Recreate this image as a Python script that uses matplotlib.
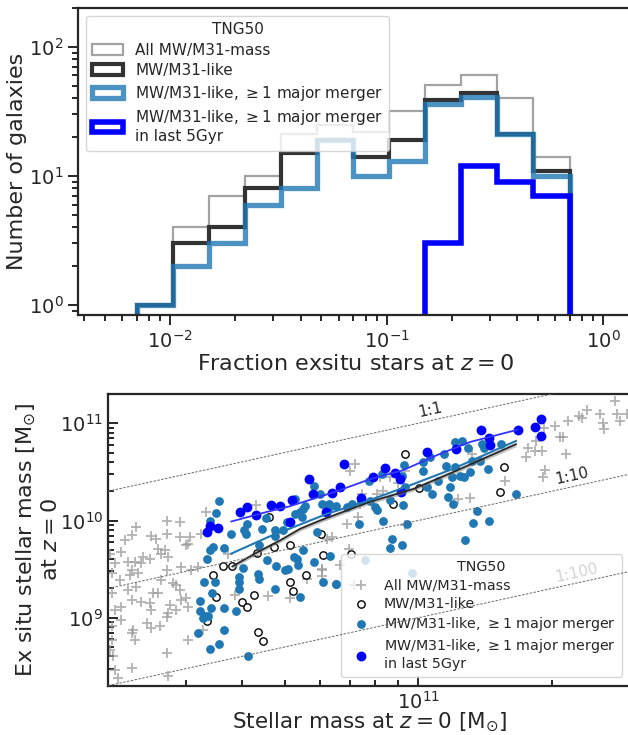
import numpy as np
import matplotlib
matplotlib.use('Agg')
import matplotlib.pyplot as plt
from matplotlib.ticker import NullFormatter

# ---- top panel: fraction of ex-situ stars (12 log bins from 0.007 to 0.7)
bin_lo, bin_hi, n_bins = 0.007, 0.7, 12
count_all = [1, 4, 7, 10, 21, 25, 22, 32, 51, 60, 40, 14]
count_like = [1, 3, 4, 8, 15, 19, 14, 19, 39, 44, 21, 11]
count_major = [1, 2, 3, 6, 8, 19, 10, 13, 36, 41, 21, 10]
count_recent = [0, 0, 0, 0, 0, 0, 0, 0, 3, 12, 9, 7]

# ---- bottom panel: log10 stellar mass vs log10 ex situ mass
cross_logm = [10.365, 10.354, 10.339, 10.399, 10.410, 10.433, 10.463, 10.433, 10.429, 10.414,
              10.421, 10.395, 10.380, 10.376, 10.361, 10.346, 10.331, 10.316, 10.305, 10.309,
              10.327, 10.350, 10.354, 10.369, 10.365, 10.346, 10.354, 10.331, 10.316, 10.309,
              10.376, 10.395, 10.399, 10.402, 10.414, 10.421, 10.433, 10.436, 10.466, 10.481,
              10.463, 10.485, 10.477, 10.504, 10.489, 10.448, 10.455, 10.463, 10.466, 10.440,
              10.455, 10.477, 10.481, 10.436, 10.433, 10.418, 10.399, 10.388, 10.358, 10.354,
              10.361, 10.309, 10.309, 10.331, 10.305, 10.312, 10.316, 10.354, 10.324, 10.433,
              10.436, 10.481, 10.515, 10.522, 10.511, 10.572, 10.587, 10.662, 10.635,
              10.858, 10.846, 10.873, 10.869, 10.906, 10.914, 10.936, 10.970, 10.970, 10.865,
              10.839, 10.805, 10.794, 10.843, 10.783, 10.824, 10.783, 10.749, 10.711, 10.855,
              10.921, 10.955, 10.784, 10.856,
              11.120, 11.248, 11.263, 11.278, 11.243, 11.265, 11.283, 11.308, 11.319, 11.327,
              11.333, 11.338, 11.361, 11.368, 11.379, 11.409, 11.417, 11.418, 11.443, 11.447,
              11.455, 11.470, 11.286, 11.280, 11.196, 11.117, 11.090]
cross_logex = [9.932, 9.847, 9.796, 9.837, 9.807, 9.994, 9.984, 9.865, 9.694, 9.711,
               9.660, 9.609, 9.626, 9.558, 9.575, 9.575, 9.677, 9.558, 9.660, 9.456,
               9.387, 9.438, 9.490, 9.456, 9.319, 9.285, 9.183, 9.115, 9.081, 9.251,
               9.166, 9.149, 9.081, 9.251, 9.251, 9.387, 9.490, 9.626, 9.524, 9.762,
               9.830, 9.830, 9.745, 9.524, 9.490, 9.353, 9.336, 9.285, 9.183, 9.132,
               9.081, 9.200, 9.115, 9.047, 9.012, 8.910, 8.893, 8.944, 8.876, 8.842,
               8.774, 8.910, 8.774, 8.978, 8.672, 8.603, 8.467, 8.484, 8.382, 8.638,
               8.398, 8.774, 8.876, 10.086, 9.865, 9.660, 9.234, 9.224, 10.155,
               10.580, 10.512, 10.273, 10.171, 10.273, 10.443, 10.443, 10.512, 9.949, 10.034,
               9.966, 9.830, 9.813, 9.711, 9.506, 9.540, 9.428, 9.394, 9.199, 9.336,
               10.307, 10.382, 9.489, 9.336,
               10.682, 10.750, 10.716, 10.716, 10.648, 10.818, 10.955, 10.972, 10.859, 10.859,
               10.682, 11.023, 11.074, 11.050, 11.132, 11.091, 11.006, 10.938, 11.227, 11.091,
               11.023, 11.091, 10.518, 10.443, 10.402, 10.232, 10.222]

like_logm = [10.559, 10.581, 10.538, 10.545, 10.524, 10.629, 10.602, 10.614, 10.639, 10.651,
             10.637, 10.675, 10.664, 10.711, 10.710, 10.717, 10.747, 10.786, 10.780, 10.849,
             10.944, 11.002, 10.969, 11.193, 11.183]
like_logex = [9.533, 9.527, 9.435, 9.213, 8.968, 9.233, 9.158, 9.111, 8.855, 8.763,
              9.666, 9.731, 10.041, 9.745, 9.370, 9.274, 9.438, 9.649, 9.864, 9.660,
              10.171, 10.331, 10.682, 10.552, 10.297]

major_logm = [10.551, 10.544, 10.530, 10.579, 10.608, 10.611, 10.614, 10.647, 10.656, 10.677,
              10.677, 10.530, 10.538, 10.562, 10.524, 10.641, 10.659, 10.605, 10.596, 10.596,
              10.638, 10.641, 10.679, 10.597, 10.678, 10.518, 10.542, 10.536, 10.509, 10.533,
              10.563, 10.508, 10.519, 10.514, 10.527, 10.589, 10.504, 10.563, 10.530, 10.552,
              10.617,
              10.696, 10.704, 10.722, 10.722, 10.734, 10.737, 10.741, 10.745, 10.720, 10.726,
              10.728, 10.740, 10.764, 10.766, 10.771, 10.779, 10.783, 10.798, 10.800, 10.815,
              10.839, 10.801, 10.786, 10.734, 10.815, 10.850, 10.867, 10.870, 10.890, 10.891,
              10.903, 10.906, 10.899, 10.921, 10.936, 10.940, 10.936, 10.963, 10.965, 10.970,
              10.968, 10.974, 10.963, 10.918, 11.011, 11.011, 11.019, 11.026, 11.045, 11.030,
              11.057, 11.068, 11.062, 11.077, 10.699, 10.707,
              11.083, 11.099, 11.113, 11.143, 11.147, 11.186, 11.083, 11.094, 11.102, 11.117,
              11.120, 11.138, 11.158, 11.072, 11.079, 11.132, 11.124, 11.160, 11.105, 11.220,
              10.879, 10.986, 10.814]
major_logex = [10.201, 10.075, 9.993, 9.864, 9.905, 9.864, 9.959, 9.915, 10.024, 9.905,
               9.837, 9.694, 9.728, 9.721, 9.608, 9.745, 9.591, 9.510, 9.414, 9.370,
               9.445, 9.401, 9.533, 9.295, 9.295, 9.366, 9.366, 9.257, 9.175, 9.104,
               9.104, 9.073, 9.022, 8.998, 9.022, 9.073, 8.848, 8.869, 8.678, 8.732,
               8.603,
               9.905, 9.983, 10.222, 10.068, 10.085, 10.034, 10.120, 10.154, 9.625, 9.608,
               9.540, 9.700, 9.574, 10.358, 9.881, 10.273, 10.171, 10.171, 10.143, 10.154,
               10.137, 9.636, 9.370, 9.216, 9.346, 10.171, 9.966, 10.205, 10.402, 10.198,
               10.137, 10.103, 10.443, 10.000, 10.212, 9.813, 9.721, 9.745, 10.160, 10.348,
               10.573, 9.966, 10.460, 10.477, 10.597, 10.512, 10.348, 10.655, 10.402, 10.273,
               10.682, 10.239, 10.563, 10.443, 9.489, 9.506,
               10.812, 10.818, 10.750, 10.784, 10.750, 10.784, 10.546, 10.460, 10.443, 10.501,
               10.614, 10.614, 10.529, 10.341, 10.171, 10.096, 9.973, 10.000, 9.803, 10.273,
               9.591, 9.462, 9.342]

recent_logm = [10.524, 10.530, 10.549, 10.598, 10.615, 10.634, 10.669, 10.689, 10.710, 10.716,
               10.753, 10.763, 10.793, 10.805, 10.823, 10.833, 10.871, 10.899, 10.926, 10.947,
               10.958, 10.960, 11.019, 11.085, 11.142, 11.159, 11.161, 11.224, 11.264, 11.277,
               11.277]
recent_logex = [9.881, 9.946, 9.922, 10.086, 10.137, 10.055, 10.157, 10.154, 9.987, 10.212,
                10.423, 10.273, 10.086, 10.287, 10.345, 10.576, 10.236, 10.447, 10.535, 10.491,
                10.430, 10.297, 10.702, 10.736, 10.934, 10.849, 10.774, 10.934, 10.961, 11.047,
                10.869]

# running medians
med_like_logm = [10.581, 10.636, 10.689, 10.734, 10.779, 10.839, 10.888, 10.989, 11.077, 11.220]
med_like_logex = [9.527, 9.670, 9.796, 9.915, 10.000, 10.103, 10.188, 10.324, 10.495, 10.784]
band_like_lo = [9.505, 9.650, 9.775, 9.893, 9.978, 10.082, 10.166, 10.302, 10.472, 10.760]
band_like_hi = [9.550, 9.692, 9.818, 9.937, 10.022, 10.125, 10.210, 10.346, 10.518, 10.808]
med_major_logm = [10.579, 10.662, 10.719, 10.794, 10.888, 10.989, 11.077, 11.220]
med_major_logex = [9.660, 9.830, 9.932, 10.068, 10.205, 10.375, 10.529, 10.818]
med_recent_logm = [10.579, 10.662, 10.708, 10.814, 10.890, 10.966, 11.042, 11.117, 11.224]
med_recent_logex = [9.990, 10.092, 10.143, 10.297, 10.423, 10.518, 10.672, 10.808, 10.934]

ratios = [1, 10, 100]
ratio_names = ['1:1', '1:10', '1:100']
ratio_label_logm = [11.03, 11.35, 11.36]

txt = '0.15'
plt.rcParams.update({
    'font.family': 'DejaVu Sans',
    'text.color': txt, 'axes.labelcolor': txt,
    'xtick.color': txt, 'ytick.color': txt,
    'axes.edgecolor': txt, 'axes.linewidth': 1.6,
    'legend.edgecolor': '0.8',
})

W, H = 628, 735
fig = plt.figure(figsize=(W / 100, H / 100), dpi=100)

# ---------------- top panel
ax1 = fig.add_axes([78 / W, 1 - 315 / H, (632 - 78) / W, 307 / H])
edges = np.logspace(np.log10(bin_lo), np.log10(bin_hi), n_bins + 1)
centres = np.sqrt(edges[:-1] * edges[1:])

ax1.hist(centres, bins=edges, weights=count_all, histtype='step', color='0.55', alpha=0.8,
         lw=1.6, label='All MW/M31-mass')
ax1.hist(centres, bins=edges, weights=count_like, histtype='step', color='0.2', lw=3,
         label='MW/M31-like')
ax1.hist(centres, bins=edges, weights=count_major, histtype='step', color='C0', alpha=0.8,
         lw=3.8, label=r'MW/M31-like, $\geq 1$ major merger')
ax1.hist(centres, bins=edges, weights=count_recent, histtype='step', color='#0000ff', lw=4,
         label='MW/M31-like, $\\geq 1$ major merger\nin last 5Gyr')
ax1.set_xscale('log')
ax1.set_yscale('log')
ax1.set_xlim(0.00375, 1.36)
ax1.set_ylim(0.837, 200)
ax1.set_xlabel('Fraction exsitu stars at $z = 0$', fontsize=16, labelpad=2)
ax1.set_ylabel('Number of galaxies', fontsize=16, labelpad=1)
ax1.tick_params(which='both', direction='out', labelsize=14, width=1.4)
ax1.tick_params(which='major', length=7)
ax1.tick_params(which='minor', length=4)
ax1.legend(title='TNG50', loc='upper left', bbox_to_anchor=(0.015, 0.974), borderaxespad=0,
           fontsize=11, title_fontsize=11, framealpha=0.8, labelspacing=0.36)

# ---------------- bottom panel
ax2 = fig.add_axes([108 / W, 1 - 685.7 / H, (632 - 108) / W, 291.7 / H])
ax2.set_xscale('log')
ax2.set_yscale('log')
xlo, xhi = 2e10, 3.03e11
ax2.set_xlim(xlo, xhi)
ax2.set_ylim(2e8, 2e11)

xr = np.array([xlo, xhi])
for r in ratios:
    ax2.plot(xr, xr / r, ls=(0, (2.5, 1.5)), color='0.4', lw=0.7, zorder=10)

ax2.scatter(10 ** np.array(cross_logm), 10 ** np.array(cross_logex), marker='+', s=42,
            color='0.6', alpha=0.75, linewidths=1.3, label='All MW/M31-mass', zorder=2)
ax2.scatter(10 ** np.array(like_logm), 10 ** np.array(like_logex), marker='o', s=28,
            facecolors='white', edgecolors='black', linewidths=1, label='MW/M31-like', zorder=3)
ax2.scatter(10 ** np.array(major_logm), 10 ** np.array(major_logex), marker='o', s=40,
            color='C0', linewidths=0, label=r'MW/M31-like, $\geq 1$ major merger', zorder=4)
ax2.scatter(10 ** np.array(recent_logm), 10 ** np.array(recent_logex), marker='o', s=50,
            color='#0000ff', linewidths=0,
            label='MW/M31-like, $\\geq 1$ major merger\nin last 5Gyr', zorder=5)

ax2.fill_between(10 ** np.array(med_like_logm), 10 ** np.array(band_like_lo),
                 10 ** np.array(band_like_hi), color='0.5', alpha=0.5, lw=0, zorder=6)
ax2.plot(10 ** np.array(med_like_logm), 10 ** np.array(med_like_logex), color='0.15', lw=1.2, zorder=7)
ax2.plot(10 ** np.array(med_major_logm), 10 ** np.array(med_major_logex), color='C0', lw=1.5, zorder=7)
ax2.plot(10 ** np.array(med_recent_logm), 10 ** np.array(med_recent_logex), color='#3333ff', lw=1.3, zorder=7)

# labels of the ratio lines, rotated with the line on screen
fig.canvas.draw()
p0 = ax2.transData.transform((2e10, 2e10))
p1 = ax2.transData.transform((2e11, 2e11))
angle = np.degrees(np.arctan2(p1[1] - p0[1], p1[0] - p0[0]))
for r, name, lx in zip(ratios, ratio_names, ratio_label_logm):
    ax2.annotate(name, (10 ** lx, 10 ** lx / r), xytext=(0, 2), textcoords='offset points',
                 rotation=angle, rotation_mode='anchor', ha='center', va='bottom',
                 fontsize=11, zorder=1)

ax2.set_xlabel(r'Stellar mass at $z = 0$ [M$_{\odot}$]', fontsize=15.5, labelpad=-1)
ax2.set_ylabel('Ex situ stellar mass [M$_{\\odot}$]\nat $z = 0$', fontsize=16, labelpad=-1)
ax2.xaxis.set_minor_formatter(NullFormatter())
ax2.tick_params(which='both', direction='in', labelsize=14, width=1.4)
ax2.tick_params(which='major', length=7)
ax2.tick_params(which='minor', length=4)
ax2.legend(title='TNG50', loc='lower right', bbox_to_anchor=(0.98, 0.03), borderaxespad=0,
           fontsize=10.3, title_fontsize=10.3, framealpha=0.8, labelspacing=0.3,
           handletextpad=0.6)

fig.savefig('out.png', dpi=100)
